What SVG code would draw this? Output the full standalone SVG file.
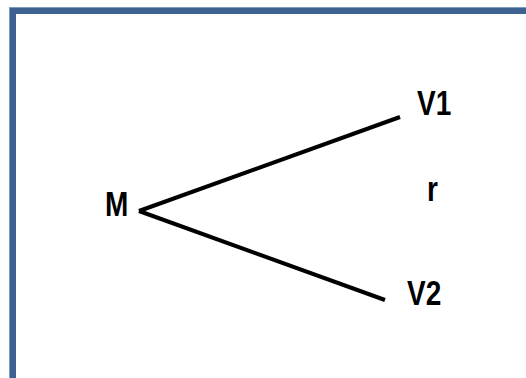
<svg xmlns="http://www.w3.org/2000/svg" width="526" height="378" viewBox="0 0 526 378">
  <style>
    .lbl { font-family: "Liberation Sans", Arial, sans-serif; font-weight: bold; font-size: 35px; fill: #000; }
    .edge { stroke: #000; stroke-width: 4; fill: none; }
  </style>
  <rect x="0" y="0" width="526" height="378" fill="#fff"/>
  <g id="frame">
    <rect x="9.5" y="7.5" width="540" height="400" fill="none" stroke="#7f9cc0" stroke-width="1"/>
    <rect x="13" y="11" width="540" height="400" fill="none" stroke="#3d6190" stroke-width="6"/>
  </g>
  <g id="connectors">
    <line class="edge" x1="139" y1="211" x2="400" y2="117"/>
    <line class="edge" x1="139" y1="211" x2="385" y2="300"/>
  </g>
  <g id="node-M"><text class="lbl" transform="translate(105,216) scale(0.8,1)">M</text></g>
  <g id="node-V1"><text class="lbl" transform="translate(417,115) scale(0.8,1)">V1</text></g>
  <g id="node-r"><text class="lbl" transform="translate(427,201) scale(0.8,1)">r</text></g>
  <g id="node-V2"><text class="lbl" transform="translate(407,305) scale(0.8,1)">V2</text></g>
</svg>
